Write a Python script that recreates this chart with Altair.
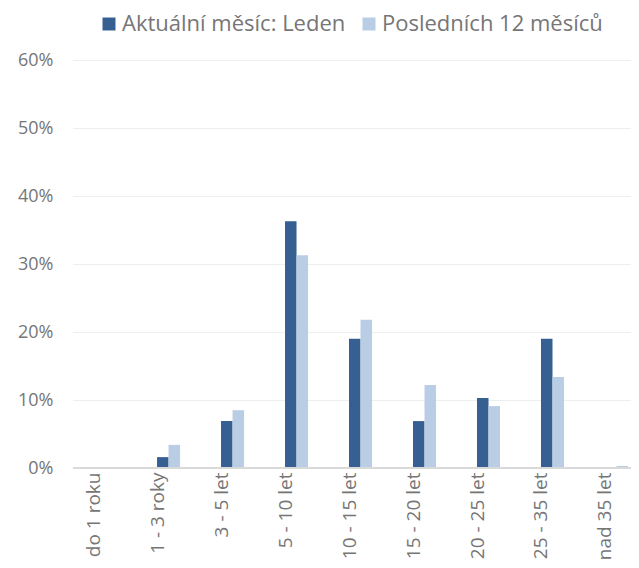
import altair as alt
import pandas as pd

categories = ["do 1 roku", "1 - 3 roky", "3 - 5 let", "5 - 10 let", "10 - 15 let",
              "15 - 20 let", "20 - 25 let", "25 - 35 let", "nad 35 let"]
series_names = ["Aktuální měsíc: Leden", "Posledních 12 měsíců"]
current_month = [0.0, 0.016, 0.069, 0.363, 0.190, 0.069, 0.103, 0.190, 0.0]
last_12 = [0.0, 0.034, 0.085, 0.313, 0.218, 0.122, 0.091, 0.134, 0.003]
colors = ["#366092", "#B9CDE5"]

rows = []
for c, a, b in zip(categories, current_month, last_12):
    rows.append({"kat": c, "serie": series_names[0], "hodnota": a})
    rows.append({"kat": c, "serie": series_names[1], "hodnota": b})
df = pd.DataFrame(rows)

FONT = "Open Sans"
GRAY = "#767676"

chart = alt.Chart(df).mark_bar().encode(
    x=alt.X("kat:N", sort=categories, title=None,
            scale=alt.Scale(paddingInner=0.64, paddingOuter=0.18, align=0.87),
            axis=alt.Axis(labelAngle=270, labelColor=GRAY, labelFont=FONT, labelFontSize=19,
                          labelPadding=4, ticks=False, domain=False, grid=False,
                          labelOffset=-11, labelLimit=0)),
    xOffset=alt.XOffset("serie:N", sort=series_names, scale=alt.Scale(paddingInner=0, paddingOuter=0)),
    y=alt.Y("hodnota:Q", title=None,
            scale=alt.Scale(domain=[0, 0.6], nice=False),
            axis=alt.Axis(values=[0, 0.1, 0.2, 0.3, 0.4, 0.5, 0.6], format=".0%",
                          labelColor=GRAY, labelFont=FONT, labelFontSize=18, labelPadding=20,
                          ticks=False, domain=False, gridColor="#EEEEEE", gridWidth=1.2)),
    color=alt.Color("serie:N", sort=series_names,
                    scale=alt.Scale(domain=series_names, range=colors),
                    legend=alt.Legend(title=None, orient="none", direction="horizontal",
                                      legendX=25, legendY=-47, symbolType="square",
                                      symbolSize=169, symbolStrokeWidth=0, labelFont=FONT,
                                      labelFontSize=22, labelColor=GRAY, columnPadding=12,
                                      labelOffset=2, padding=0, labelLimit=0)),
)

baseline = alt.Chart(pd.DataFrame({"y": [0]})).mark_rule(color="#D9D9D9", strokeWidth=2).encode(
    y=alt.Y("y:Q", scale=alt.Scale(domain=[0, 0.6], nice=False))
)

final = alt.layer(chart, baseline).properties(
    width=558, height=408,
    autosize=alt.AutoSizeParams(type="none"),
    padding={"left": 65, "top": 52, "right": 0, "bottom": 100},
).configure_view(stroke=None)

final.save("out.html", embed_options={"renderer": "svg", "actions": False})
